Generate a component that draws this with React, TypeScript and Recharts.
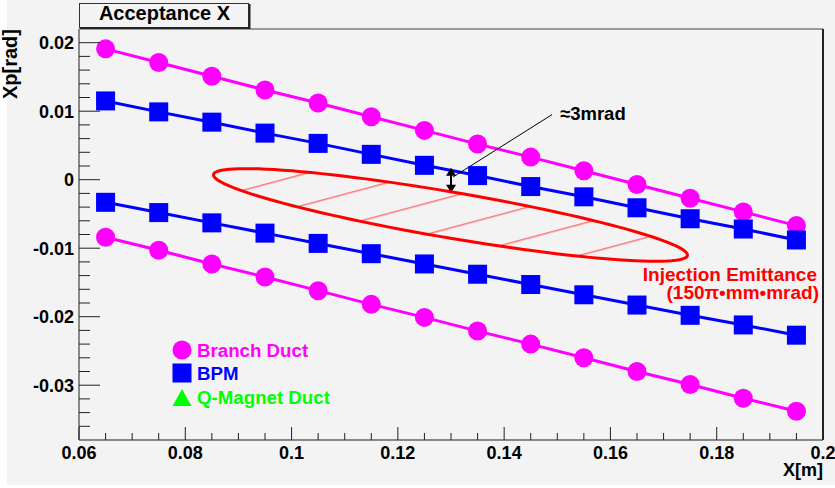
import React from "react";
import { ComposedChart, Line, Scatter, XAxis, YAxis, ReferenceLine } from "recharts";

const W = 835;
const H = 488;
const FONT = '"Liberation Sans", Arial, Helvetica, sans-serif';

// x positions of the apertures [m]
const positions = [0.065, 0.075, 0.085, 0.095, 0.105, 0.115, 0.125, 0.135, 0.145, 0.155, 0.165, 0.175, 0.185, 0.195];
// acceptance limits [rad]
const branchUpper = [0.0191, 0.0171, 0.0151, 0.0131, 0.0112, 0.0092, 0.0072, 0.0052, 0.0033, 0.0013, -0.0007, -0.0027, -0.0047, -0.0067];
const branchLower = [-0.0084, -0.0103, -0.0123, -0.0142, -0.0162, -0.0182, -0.0201, -0.0221, -0.024, -0.026, -0.028, -0.0299, -0.0319, -0.0338];
const bpmUpper = [0.0115, 0.0099, 0.0084, 0.0068, 0.0053, 0.0037, 0.0021, 0.0006, -0.001, -0.0025, -0.0041, -0.0057, -0.0072, -0.0088];
const bpmLower = [-0.0033, -0.0048, -0.0063, -0.0078, -0.0093, -0.0108, -0.0123, -0.0138, -0.0153, -0.0168, -0.0183, -0.0198, -0.0212, -0.0227];

const xDomain: [number, number] = [0.06, 0.2];
const yDomain: [number, number] = [-0.038, 0.022];
const xMajor = [0.06, 0.08, 0.1, 0.12, 0.14, 0.16, 0.18, 0.2];
const xMajorLabels = ["0.06", "0.08", "0.1", "0.12", "0.14", "0.16", "0.18", "0.2"];
const yMajor = [-0.03, -0.02, -0.01, 0, 0.01, 0.02];
const yMajorLabels = ["-0.03", "-0.02", "-0.01", "0", "0.01", "0.02"];
const xTicks = Array.from({ length: 29 }, (_, i) => Math.round((0.06 + i * 0.005) * 1000) / 1000);
const yTicks = Array.from({ length: 29 }, (_, i) => Math.round((-0.036 + i * 0.002) * 1000) / 1000);

// injection emittance ellipse (150 pi mm mrad), sheared in x-xp
const ELL_X0 = 0.1299;
const ELL_XP0 = -0.00515;
const ELL_HALF_X = 0.0446;
const ELL_SHEAR = -0.00585;
const ELL_HALF_XP = 0.0034;
const ellipse = Array.from({ length: 121 }, (_, i) => {
  const t = (i / 120) * 2 * Math.PI;
  return {
    x: ELL_X0 + ELL_HALF_X * Math.cos(t),
    y: ELL_XP0 + ELL_SHEAR * Math.cos(t) + ELL_HALF_XP * Math.sin(t),
  };
});

// "3 mrad" gap marker and its pointer line
const gapX = 0.13;
const gapTop = 0.00175;
const gapBottom = -0.0019;
const pointerFrom = { x: 0.1304, y: 0.0004 };
const pointerTo = { x: 0.149, y: 0.0095 };

const toPoints = (ys: number[]) => positions.map((x, i) => ({ x, y: ys[i] }));

const circleDot = (color: string) => (p: any) =>
  <circle key={`c${p.index}`} cx={p.cx} cy={p.cy} r={9.5} fill={color} />;
const squareDot = (color: string) => (p: any) =>
  <rect key={`s${p.index}`} x={p.cx - 9.5} y={p.cy - 9.5} width={19} height={19} fill={color} />;

const near = (a: number, b: number) => Math.abs(a - b) < 1e-6;

const XTick = (props: any) => {
  const { x, y, payload } = props;
  const idx = xMajor.findIndex((t) => near(t, payload.value));
  return (
    <g>
      <line x1={x} x2={x} y1={y} y2={y - (idx >= 0 ? 13 : 7)} stroke="#222" strokeWidth={1} />
      {idx >= 0 && (
        <text x={x} y={y + 19} textAnchor="middle" fontFamily={FONT} fontWeight="bold" fontSize={18} fill="#000">
          {xMajorLabels[idx]}
        </text>
      )}
    </g>
  );
};

const YTick = (props: any) => {
  const { x, y, payload } = props;
  const idx = yMajor.findIndex((t) => near(t, payload.value));
  return (
    <g>
      <line x1={x} x2={x + (idx >= 0 ? 21 : 11)} y1={y} y2={y} stroke="#222" strokeWidth={1} />
      {idx >= 0 && (
        <text x={x - 5} y={y + 6.4} textAnchor="end" fontFamily={FONT} fontWeight="bold" fontSize={18} fill="#000">
          {yMajorLabels[idx]}
        </text>
      )}
    </g>
  );
};

const renderEllipse = (props: any) => {
  const pts = props.points || [];
  const d = pts.map((p: any, i: number) => `${i ? "L" : "M"}${p.x},${p.y}`).join(" ") + " Z";
  return (
    <g>
      <defs>
        <pattern id="hatch" patternUnits="userSpaceOnUse" width={20} height={30} patternTransform="rotate(-15)">
          <line x1={0} y1={6.8} x2={20} y2={6.8} stroke="#ff3b3b" strokeWidth={1} />
        </pattern>
      </defs>
      <path d={d} fill="url(#hatch)" stroke="#ff0000" strokeWidth={3} />
    </g>
  );
};

const renderGapArrow = (p: any) => {
  const x = p.x1;
  const top = Math.min(p.y1, p.y2);
  const bot = Math.max(p.y1, p.y2);
  return (
    <g>
      <line x1={x} x2={x} y1={top + 6} y2={bot - 6} stroke="#000" strokeWidth={2} />
      <polygon points={`${x},${top} ${x - 5},${top + 8} ${x + 5},${top + 8}`} fill="#000" />
      <polygon points={`${x},${bot} ${x - 5},${bot - 8} ${x + 5},${bot - 8}`} fill="#000" />
    </g>
  );
};

const txt = { fontFamily: FONT, fontWeight: "bold" as const };

export default function App() {
  return (
    <div style={{ position: "absolute", left: 0, top: 0, width: W, height: H, background: "#fff" }}>
      <div style={{ position: "absolute", left: 7, top: 0, width: W - 7, height: 485, background: "#f3f3f3" }} />
      <div style={{ position: "absolute", left: 0, top: 0 }}>
        <ComposedChart width={W} height={H} margin={{ top: 29, right: 12, bottom: 18, left: 7 }}>
          <XAxis
            dataKey="x"
            type="number"
            domain={xDomain}
            ticks={xTicks}
            interval={0}
            tickSize={0}
            tickMargin={0}
            tick={<XTick />}
            height={30}
            axisLine={{ stroke: "#666", strokeWidth: 1.5 }}
            allowDataOverflow
          />
          <YAxis
            dataKey="y"
            type="number"
            domain={yDomain}
            ticks={yTicks}
            interval={0}
            tickSize={0}
            tickMargin={0}
            tick={<YTick />}
            width={72}
            axisLine={{ stroke: "#666", strokeWidth: 1.5 }}
            allowDataOverflow
          />
          <ReferenceLine y={yDomain[1]} stroke="#9a9a9a" strokeWidth={2} />
          <ReferenceLine x={xDomain[1]} stroke="#222" strokeWidth={2} />
          <Line data={toPoints(branchUpper)} dataKey="y" type="linear" stroke="#ff00ff" strokeWidth={3} dot={circleDot("#ff00ff")} isAnimationActive={false} />
          <Line data={toPoints(branchLower)} dataKey="y" type="linear" stroke="#ff00ff" strokeWidth={3} dot={circleDot("#ff00ff")} isAnimationActive={false} />
          <Line data={toPoints(bpmUpper)} dataKey="y" type="linear" stroke="#0000ff" strokeWidth={3} dot={squareDot("#0000ff")} isAnimationActive={false} />
          <Line data={toPoints(bpmLower)} dataKey="y" type="linear" stroke="#0000ff" strokeWidth={3} dot={squareDot("#0000ff")} isAnimationActive={false} />
          <Scatter data={ellipse} dataKey="y" fill="#ff0000" shape={() => <g />} line={renderEllipse} lineType="joint" isAnimationActive={false} />
          <ReferenceLine segment={[pointerFrom, pointerTo]} stroke="#000" strokeWidth={1} />
          <ReferenceLine segment={[{ x: gapX, y: gapTop }, { x: gapX, y: gapBottom }]} stroke="#000" shape={renderGapArrow} />
        </ComposedChart>
      </div>
      <svg width={W} height={H} style={{ position: "absolute", left: 0, top: 0, pointerEvents: "none" }}>
        {/* title pave */}
        <rect x={79.5} y={3.5} width={169} height={24} fill="#f3f3f3" stroke="#333" strokeWidth={1} />
        <line x1={249.5} x2={249.5} y1={4} y2={29} stroke="#222" strokeWidth={2} />
        <line x1={80} x2={250} y1={28} y2={28} stroke="#222" strokeWidth={2} />
        <text x={164.5} y={20} textAnchor="middle" fontSize={20} {...txt} fill="#000">Acceptance X</text>
        {/* axis titles */}
        <text transform="translate(17,29) rotate(-90)" textAnchor="end" fontSize={20} {...txt} fill="#000">Xp[rad]</text>
        <text x={823} y={476} textAnchor="end" fontSize={18} {...txt} fill="#000">X[m]</text>
        {/* annotations */}
        <text x={560} y={120} fontSize={18.5} {...txt} fill="#000">≈3mrad</text>
        <text x={817} y={281} textAnchor="end" fontSize={19} {...txt} fill="#ff0000">Injection Emittance</text>
        <text x={819} y={299} textAnchor="end" fontSize={19} {...txt} fill="#ff0000">(150π•mm•mrad)</text>
        {/* legend */}
        <circle cx={182} cy={350} r={9.5} fill="#ff00ff" />
        <text x={197} y={357} fontSize={18.7} {...txt} fill="#ff00ff">Branch Duct</text>
        <rect x={172.5} y={363.5} width={19} height={19} fill="#0000ff" />
        <text x={197} y={380} fontSize={18.7} {...txt} fill="#0000ff">BPM</text>
        <polygon points="172.5,406 191.5,406 182,389" fill="#00ff00" />
        <text x={197} y={404} fontSize={18.7} {...txt} fill="#00ff00">Q-Magnet Duct</text>
      </svg>
    </div>
  );
}
